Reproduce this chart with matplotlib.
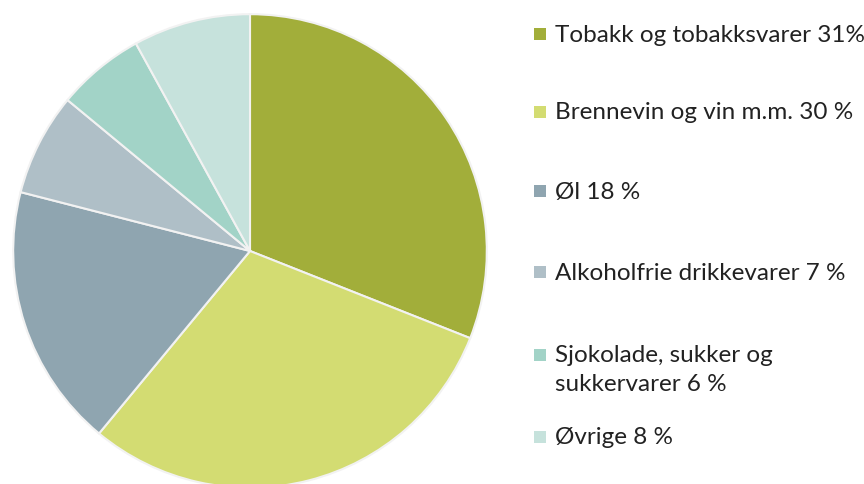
import matplotlib
matplotlib.use("Agg")
import matplotlib.pyplot as plt
from matplotlib.patches import Rectangle

categories = ["Tobakk og tobakksvarer 31%", "Brennevin og vin m.m. 30 %", "Øl 18 %",
              "Alkoholfrie drikkevarer 7 %", "Sjokolade, sukker og\nsukkervarer 6 %", "Øvrige 8 %"]
values = [31, 30, 18, 7, 6, 8]
colors = ["#A2AE3A", "#D3DC72", "#8FA5B0", "#AFBFC7", "#A2D3C7", "#C6E2DC"]

W, H = 864, 485
fig = plt.figure(figsize=(W / 100, H / 100), dpi=100)
fig.patch.set_facecolor("white")

cx, cy, r = 250, 252, 238
ax = fig.add_axes([(cx - r) / W, (H - cy - r) / H, 2 * r / W, 2 * r / H])
ax.pie(values, colors=colors, startangle=90, counterclock=False, radius=1,
       wedgeprops=dict(edgecolor="#F2F2F2", linewidth=1.5))
ax.set_xlim(-1.005, 1.005)
ax.set_ylim(-1.005, 1.005)
ax.set_aspect("equal")
ax.axis("off")

fs = 17.5
ys = [35, 113, 192, 273, 356, 438]
for lab, col, y in zip(categories, colors, ys):
    s = 12
    fig.patches.append(Rectangle((534 / W, (H - y - s / 2) / H), s / W, s / H,
                                 transform=fig.transFigure, facecolor=col, edgecolor="none"))
    lines = lab.split("\n")
    for i, line in enumerate(lines):
        fig.text(555 / W, (H - y - 29 * i) / H, line, fontsize=fs, family="Lato",
                 color="#222222", va="center", ha="left")

fig.savefig("out.png", dpi=100)
